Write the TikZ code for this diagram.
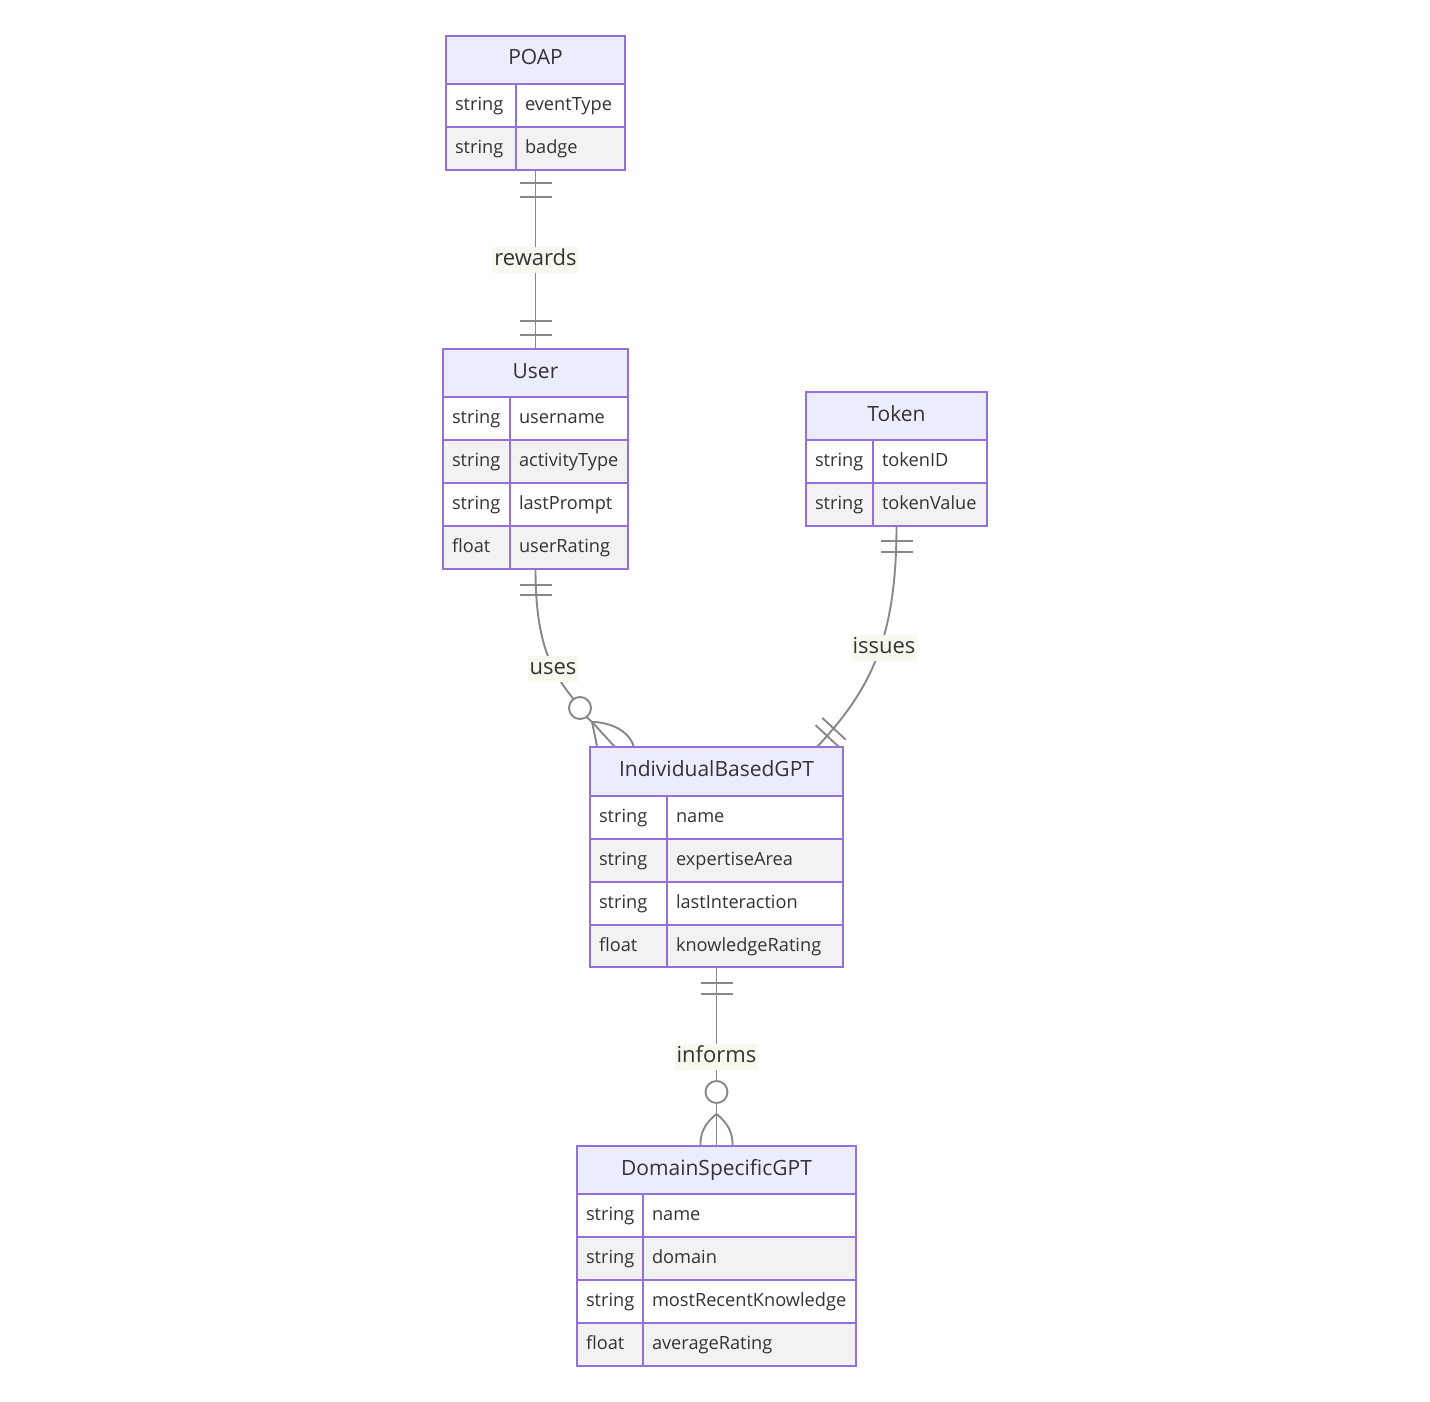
\documentclass[tikz,border=0pt]{standalone}
\usepackage{fontspec}
\setmainfont{Open Sans}
\usetikzlibrary{calc}
\definecolor{erborder}{HTML}{9370DB}
\definecolor{erhead}{HTML}{ECECFF}
\definecolor{erodd}{HTML}{FFFFFF}
\definecolor{ereven}{HTML}{F2F2F2}
\definecolor{ertext}{HTML}{333333}
\definecolor{erline}{HTML}{888888}
\definecolor{erlbl}{HTML}{F6FAEE}
\tikzset{
  hdr/.style={draw=erborder, line width=2pt, fill=erhead, text=ertext, font=\fontsize{21}{24}\selectfont, inner sep=0pt, text height=15pt, text depth=5pt},
  cell/.style={draw=erborder, line width=2pt, text=ertext, font=\fontsize{18.2}{21}\selectfont, inner xsep=9pt, inner ysep=0pt, align=left, text height=14pt, text depth=4pt},
  conn/.style={draw=erline, line width=1.9pt},
  lbl/.style={fill=erlbl, text=ertext, font=\fontsize{22}{25}\selectfont, inner xsep=2pt, inner ysep=3pt, text height=15.5pt, text depth=5pt},
}
% id, xl, xr, yt, yb, text
\newcommand\erhead[6]{\node[hdr, minimum width={(#3-#2)*1pt}, minimum height={(#5-#4)*1pt}] (#1) at ({(#2+#3)/2},{(#4+#5)/2}) {#6};}
% id, xl, xd, xr, yt, yb, fill, type, attr
\newcommand\errow[9]{%
  \node[cell, fill=#7, minimum width={(#3-#2)*1pt}, minimum height={(#6-#5)*1pt}, text width={(#3-#2-18)*1pt}] (#1t) at ({(#2+#3)/2},{(#5+#6)/2}) {#8};
  \node[cell, fill=#7, minimum width={(#4-#3)*1pt}, minimum height={(#6-#5)*1pt}, text width={(#4-#3-18)*1pt}] (#1a) at ({(#3+#4)/2},{(#5+#6)/2}) {#9};}
\begin{document}
\begin{tikzpicture}[x=1pt, y=-1pt]
\useasboundingbox[fill=white] (0,0) rectangle (1430,1402);

% POAP
\erhead{poap}{446}{625}{36}{84}{POAP}
\errow{poap1}{446}{516}{625}{84}{127}{erodd}{string}{eventType}
\errow{poap2}{446}{516}{625}{127}{170}{ereven}{string}{badge}

% User
\erhead{user}{443}{628}{349}{397}{User}
\errow{user1}{443}{510}{628}{397}{440}{erodd}{string}{username}
\errow{user2}{443}{510}{628}{440}{483}{ereven}{string}{activityType}
\errow{user3}{443}{510}{628}{483}{526}{erodd}{string}{lastPrompt}
\errow{user4}{443}{510}{628}{526}{569}{ereven}{float}{userRating}

% Token
\erhead{token}{806}{987}{392}{440}{Token}
\errow{token1}{806}{873}{987}{440}{483}{erodd}{string}{tokenID}
\errow{token2}{806}{873}{987}{483}{526}{ereven}{string}{tokenValue}

% IndividualBasedGPT
\erhead{ibg}{590}{843}{747}{796}{IndividualBasedGPT}
\errow{ibg1}{590}{667}{843}{796}{839}{erodd}{string}{name}
\errow{ibg2}{590}{667}{843}{839}{882}{ereven}{string}{expertiseArea}
\errow{ibg3}{590}{667}{843}{882}{925}{erodd}{string}{lastInteraction}
\errow{ibg4}{590}{667}{843}{925}{967}{ereven}{float}{knowledgeRating}

% DomainSpecificGPT
\erhead{dsg}{577}{856}{1146}{1194}{DomainSpecificGPT}
\errow{dsg1}{577}{643}{856}{1194}{1237}{erodd}{string}{name}
\errow{dsg2}{577}{643}{856}{1237}{1280}{ereven}{string}{domain}
\errow{dsg3}{577}{643}{856}{1280}{1323}{erodd}{string}{mostRecentKnowledge}
\errow{dsg4}{577}{643}{856}{1323}{1366}{ereven}{float}{averageRating}

% anchor coordinates
\coordinate (poapB) at (535.5,170);
\coordinate (userT) at (535.5,349);
\coordinate (userB) at (535.5,569);
\coordinate (tokenB) at (896.5,526);
\coordinate (ibgT1) at (615,747);
\coordinate (ibgT2) at (817,747);
\coordinate (ibgB) at (716.5,967);
\coordinate (dsgT) at (716.5,1146);

% rewards
\draw[conn] (poapB) -- (userT);
\draw[conn] ([xshift=-16pt,yshift=-13pt]poapB) -- ++(32,0);
\draw[conn] ([xshift=-16pt,yshift=-27pt]poapB) -- ++(32,0);
\draw[conn] ([xshift=-16pt,yshift=14pt]userT) -- ++(32,0);
\draw[conn] ([xshift=-16pt,yshift=28pt]userT) -- ++(32,0);
\node[lbl] (lrewards) at (535.5,260) {rewards};

% uses
\coordinate (usesC) at (580,708);
\draw[conn] (userB) .. controls (535.5,640) and (550,670) .. ($(usesC)+(-6.5,-9)$);
\draw[conn] (usesC) circle (11);
\coordinate (usesF) at (592,722);
\draw[conn] ($(usesC)+(6.5,9)$) -- (usesF);
\draw[conn] (usesF) -- (ibgT1);
\draw[conn] (usesF) .. controls (594,732) and (596,740) .. ([xshift=-18pt]ibgT1);
\draw[conn] (usesF) .. controls (606,722) and (628,728) .. ([xshift=19pt]ibgT1);
\draw[conn] ([xshift=-16pt,yshift=-16pt]userB) -- ++(32,0);
\draw[conn] ([xshift=-16pt,yshift=-26pt]userB) -- ++(32,0);
\node[lbl] (luses) at (553,669) {uses};

% issues
\draw[conn] (tokenB) .. controls (896.5,640) and (870,690) .. (ibgT2);
\draw[conn] ([xshift=-16pt,yshift=-15pt]tokenB) -- ++(32,0);
\draw[conn] ([xshift=-16pt,yshift=-26pt]tokenB) -- ++(32,0);
\draw[conn] (815.5,725.1) -- (838.9,746.9);
\draw[conn] (822.3,717.9) -- (845.7,739.7);
\node[lbl] (lissues) at (884,648) {issues};

% informs
\coordinate (infC) at (716.5,1092);
\coordinate (infF) at (716.5,1114);
\draw[conn] (ibgB) -- ($(infC)+(0,-11)$);
\draw[conn] (infC) circle (11);
\draw[conn] ($(infC)+(0,11)$) -- (dsgT);
\draw[conn] (infF) .. controls (704,1124) and (700,1134) .. ([xshift=-16pt]dsgT);
\draw[conn] (infF) .. controls (729,1124) and (733,1134) .. ([xshift=16pt]dsgT);
\draw[conn] ([xshift=-16pt,yshift=-16pt]ibgB) -- ++(32,0);
\draw[conn] ([xshift=-16pt,yshift=-27pt]ibgB) -- ++(32,0);
\node[lbl] (linforms) at (716.5,1057) {informs};
\end{tikzpicture}
\end{document}
